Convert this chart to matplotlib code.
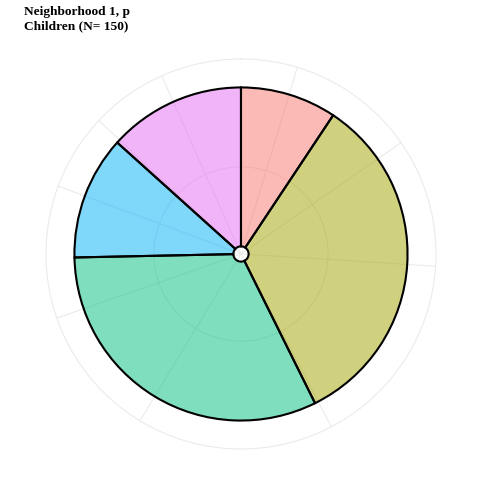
import numpy as np
import matplotlib.pyplot as plt

groups = ['g1', 'g2', 'g3', 'g4', 'g5']
counts = [14, 50, 48, 18, 20]
colors = ['#F8766D', '#A3A500', '#00BF7D', '#00B0F6', '#E76BF3']
title = 'Neighborhood 1, p\nChildren (N= 150)'

total = sum(counts)
ends = np.cumsum(counts)
mids = ends - np.array(counts) / 2
minors = (mids[:-1] + mids[1:]) / 2

to_rad = lambda v: np.asarray(v) / total * 2 * np.pi

fig = plt.figure(figsize=(4.8, 4.8), dpi=100)
ax = fig.add_axes([0.0958, 0.0646, 0.8125, 0.8125], projection='polar')
ax.set_theta_zero_location('N')
ax.set_theta_direction(-1)
ax.set_axisbelow(True)

r_lo, r_hi = 0.452, 1.679
ax.set_ylim(r_lo, r_hi)

ax.bar(to_rad(mids), 1.0, width=to_rad(counts), bottom=0.5,
       color=colors, alpha=0.5, edgecolor='none', zorder=2)
ax.bar(to_rad(mids), 1.0, width=to_rad(counts), bottom=0.5,
       facecolor='none', edgecolor='black', linewidth=1.5, zorder=3)

# grid like theme_minimal
ax.set_xticks(to_rad(mids))
ax.set_xticks(to_rad(minors), minor=True)
ax.set_xticklabels([])
ax.set_yticks([1.0])
ax.set_yticklabels([])
ax.tick_params(length=0, which='both')
ax.xaxis.grid(True, which='major', color='#EBEBEB', lw=0.8)
ax.xaxis.grid(True, which='minor', color='#EBEBEB', lw=0.8)
ax.yaxis.grid(True, color='#EBEBEB', lw=0.8)
ax.spines['polar'].set_color('#EBEBEB')
ax.spines['polar'].set_linewidth(0.8)

fig.text(0.05, 0.987, title, ha='left', va='top', fontsize=9.6,
         fontweight='bold', family='Liberation Serif', linespacing=1.25)

fig.savefig('out.png', dpi=100)
